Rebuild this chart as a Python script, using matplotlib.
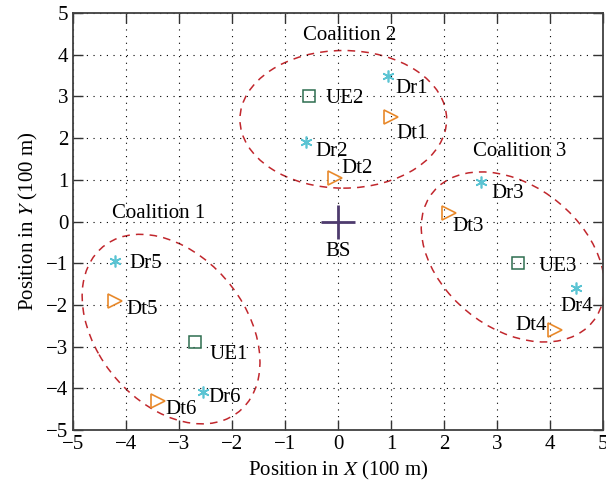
import numpy as np
import matplotlib
matplotlib.use('Agg')
import matplotlib.pyplot as plt
from matplotlib.patches import Ellipse

# Node positions (100 m)
ue_names = ['UE1', 'UE2', 'UE3']
ue_x = [-2.7, -0.55, 3.4]
ue_y = [-2.9, 3.0, -1.0]

dr_names = ['Dr1', 'Dr2', 'Dr3', 'Dr4', 'Dr5', 'Dr6']
dr_x = [0.95, -0.6, 2.7, 4.5, -4.2, -2.55]
dr_y = [3.5, 1.9, 0.95, -1.6, -0.95, -4.1]

dt_names = ['Dt1', 'Dt2', 'Dt3', 'Dt4', 'Dt5', 'Dt6']
dt_x = [1.0, -0.05, 2.1, 4.1, -4.2, -3.4]
dt_y = [2.5, 1.05, 0.2, -2.6, -1.9, -4.3]

bs_x = [0.0]
bs_y = [0.0]

# Coalition ellipses: center, width, height, angle
coal_names = ['Coalition 1', 'Coalition 2', 'Coalition 3']
coal_cx = [-3.15, 0.1, 3.3]
coal_cy = [-2.58, 2.45, -0.85]
coal_w = [4.8, 3.9, 4.44]
coal_h = [2.98, 3.3, 2.98]
coal_ang = [-65.8, 0.0, -57.8]

plt.rcParams['font.family'] = ['Liberation Serif', 'DejaVu Serif']
plt.rcParams['mathtext.fontset'] = 'stix'

fig = plt.figure(figsize=(6.06, 4.90), dpi=100)
ax = fig.add_axes([0.1205, 0.1224, 0.8745, 0.8511])

fs = 15

# ellipses
for cx, cy, w, h, a in zip(coal_cx, coal_cy, coal_w, coal_h, coal_ang):
    e = Ellipse((cx, cy), w, h, angle=a, fill=False, ls=(0, (5, 4)), lw=1.1, color='#c1272d')
    ax.add_patch(e)

ax.plot(ue_x, ue_y, 's', ms=8.5, mfc='none', mec='#2d6e4f', mew=1.1, ls='none')
ax.plot(dr_x, dr_y, marker=(6, 2, 0), ms=8.5, mec='#5bc4d3', mew=1.2, ls='none')
ax.plot(dt_x, dt_y, '>', ms=10, mfc='none', mec='#e8892b', mew=1.2, ls='none')
ax.plot(bs_x, bs_y, '+', ms=25, mew=2, color='#4e3b6e', ls='none')

# labels
for nm, tx, ty in zip(ue_names, [-2.43, -0.23, 3.79], [-3.2, 2.96, -1.09]):
    ax.text(tx, ty, nm, fontsize=fs, va='center')
for nm, tx, ty in zip(dr_names, [1.09, -0.42, 2.9, 4.19, -3.94, -2.45],
                      [3.2, 1.67, 0.68, -2.03, -1.0, -4.23]):
    ax.text(tx, ty, nm, fontsize=fs, va='center')
ax.text(1.11, 2.12, 'Dt1', fontsize=fs, va='center')
ax.text(0.06, 1.28, 'Dt2', fontsize=fs, va='center')
ax.text(2.15, -0.13, 'Dt3', fontsize=fs, va='center')
ax.text(3.94, -2.49, 'Dt4', fontsize=fs, va='center', ha='right')
ax.text(-4.0, -2.1, 'Dt5', fontsize=fs, va='center')
ax.text(-3.25, -4.5, 'Dt6', fontsize=fs, va='center')
ax.text(0, -0.73, 'BS', fontsize=fs, va='center', ha='center')
for nm, tx, ty in zip(coal_names, [-3.39, 0.21, 3.42], [0.2, 4.47, 1.67]):
    ax.text(tx, ty, nm, fontsize=fs, va='center', ha='center')

ticks = np.arange(-5, 6, 1)
tick_lbl = [str(t).replace('-', '\u2212') for t in ticks]
ax.set_xlim(-5, 5)
ax.set_ylim(-5, 5)
ax.set_xticks(ticks)
ax.set_yticks(ticks)
ax.set_xticklabels(tick_lbl)
ax.set_yticklabels(tick_lbl)
ax.grid(True, ls=(0, (1, 5)), color='black', lw=0.8)
ax.tick_params(direction='in', top=True, right=True, labelsize=fs, length=7, width=1.0, colors='#333333', labelcolor='black')
for s in ax.spines.values():
    s.set_linewidth(1.3)
    s.set_color('#404040')

ax.set_xlabel('Position in $X$ (100 m)', fontsize=fs, labelpad=4)
ax.set_ylabel('Position in $Y$ (100 m)', fontsize=fs, labelpad=4)

fig.savefig('out.png', dpi=100)
